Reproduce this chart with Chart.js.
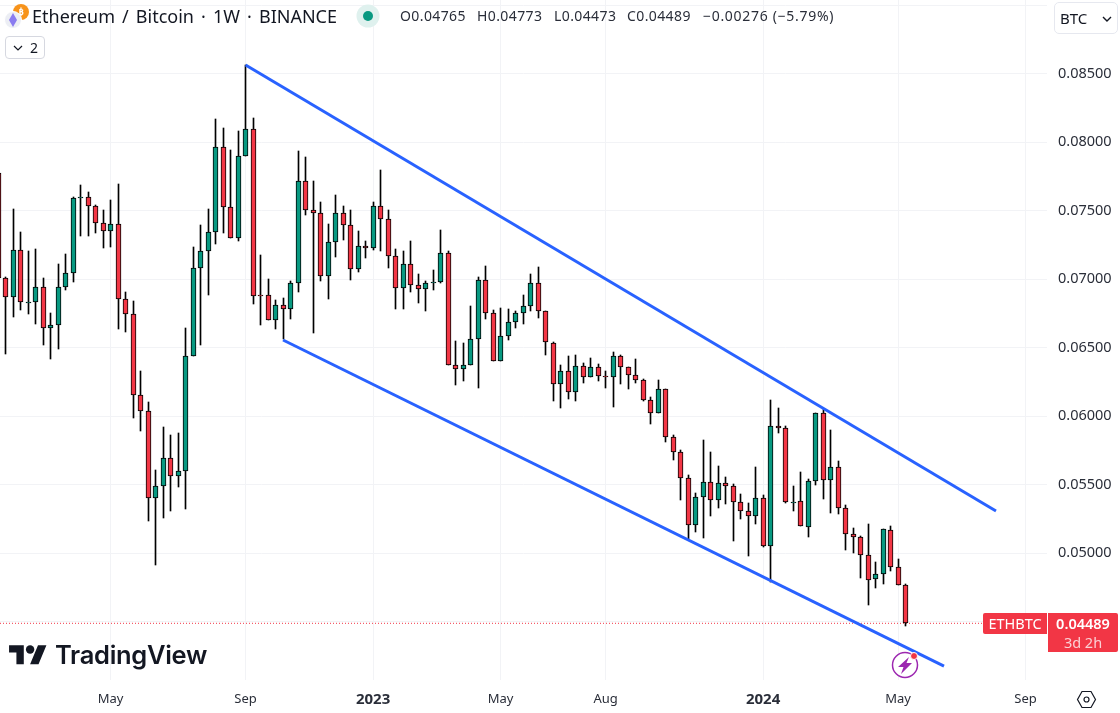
<!DOCTYPE html>
<html>
<head>
<meta charset="utf-8">
<title>ETHBTC</title>
<script src="https://cdn.jsdelivr.net/npm/chart.js@4"></script>
<style>
  html, body { margin: 0; padding: 0; background: #fff; }
  #wrap { position: relative; width: 1120px; height: 713px; overflow: hidden; font-family: "Noto Sans", sans-serif; color: #131722; }
  canvas { position: absolute; left: 0; top: 0; }
  .abs { position: absolute; white-space: nowrap; }
  #title { left: 32px; top: 4px; font-size: 18px; line-height: 24px; word-spacing: 2.4px; }
  #ohlc span { position: absolute; top: 5px; font-size: 14px; line-height: 22px; color: #2a2e39; letter-spacing: 0.4px; white-space: nowrap; }
  #ohlc span.change { letter-spacing: 0.7px; }
  #count { left: 5px; top: 36px; width: 38px; height: 21px; border: 1px solid #d6d8e0; border-radius: 4px; font-size: 14px; line-height: 21px; background: #fff; }
  #count span { position: absolute; left: 24px; top: 0; }
  #unit { left: 1054px; top: 2px; width: 62px; height: 30px; border: 1px solid #e6e8ef; border-radius: 5px; background: #fff; font-size: 15px; line-height: 30px; }
  #unit span { position: absolute; left: 5px; top: 0; }
  #symTag { left: 983px; top: 613px; width: 64px; height: 21px; background: #f23645; color: #fff; font-size: 14.5px; line-height: 21px; text-align: center; border-radius: 2px 0 0 2px; }
  #priceTag { left: 1048px; top: 613px; width: 70px; height: 39px; background: #f23645; color: #fff; border-radius: 0 2px 2px 0; text-align: center; font-size: 14.5px; line-height: 19px; }
  #priceTag b { font-weight: 600; display: block; margin-top: 1px; }
  #priceTag span { color: #fbd0d4; display: block; }
  #brand { left: 55px; top: 637px; font-family: Inter, sans-serif; font-weight: 600; font-size: 25.5px; line-height: 36px; color: #131722; letter-spacing: -0.3px; }
</style>
</head>
<body>
<div id="wrap">
  <canvas id="chart" width="1120" height="713" style="width:1120px;height:713px"></canvas>

  <svg class="abs" style="left:3px;top:3px" width="28" height="28" viewBox="0 0 28 28">
    <circle cx="18" cy="9" r="8" fill="#f7931a"/>
    <text x="18" y="12" font-size="9" font-weight="700" text-anchor="middle" fill="#fff" font-family="Noto Sans">₿</text>
    <circle cx="10" cy="17" r="8.5" fill="#eceef4" stroke="#fff"/>
    <path d="M10 10 L14 17 L10 24 L6 17 Z" fill="#8a7cf0"/>
  </svg>
  <div id="title" class="abs">Ethereum / Bitcoin · 1W · BINANCE</div>
  <svg class="abs" style="left:356px;top:4px" width="24" height="24" viewBox="0 0 24 24">
    <circle cx="12" cy="12" r="11.5" fill="#dff1ee"/>
    <circle cx="12" cy="12" r="5" fill="#089981"/>
  </svg>
  <div id="ohlc">
    <span style="left:400px">O0.04765</span>
    <span style="left:477px">H0.04773</span>
    <span style="left:554px">L0.04473</span>
    <span style="left:627px">C0.04489</span>
    <span class="change" style="left:703px">−0.00276 (−5.79%)</span>
  </div>

  <div id="count" class="abs">
    <svg style="position:absolute;left:7px;top:7px" width="10" height="8" viewBox="0 0 10 8"><path d="M1 2 L5 6 L9 2" fill="none" stroke="#131722" stroke-width="1.2"/></svg>
    <span>2</span>
  </div>
  <div id="unit" class="abs">
    <span>BTC</span>
    <svg style="position:absolute;left:47px;top:12px" width="10" height="8" viewBox="0 0 10 8"><path d="M1 2 L5 6 L9 2" fill="none" stroke="#131722" stroke-width="1.4"/></svg>
  </div>

  <div id="symTag" class="abs">ETHBTC</div>
  <div id="priceTag" class="abs"><b>0.04489</b><span>3d 2h</span></div>

  <svg class="abs" style="left:9px;top:641px" width="38" height="24" viewBox="0 0 36 22.8">
    <path d="M14 22H7V11H0V4h14v18zM28 22h-8l7.5-18h8L28 22z" fill="#131722"/>
    <circle cx="20" cy="8" r="4" fill="#131722"/>
  </svg>
  <div id="brand" class="abs">TradingView</div>

  <svg class="abs" style="left:889px;top:649px" width="32" height="32" viewBox="0 0 32 32">
    <circle cx="16" cy="16" r="12.5" fill="#fff" stroke="#9c27b0" stroke-width="1.5"/>
    <path d="M20 8 L9 18 L14.5 18 L12 25 L23 14 L17.5 14 Z" fill="#9c27b0"/>
    <circle cx="25" cy="7" r="3.5" fill="#f23645" stroke="#fff"/>
  </svg>

  <svg class="abs" style="left:1076px;top:689px" width="21" height="21" viewBox="0 0 21 21">
    <path d="M6 2.5 H15 L19.5 10.5 L15 18.5 H6 L1.5 10.5 Z" fill="none" stroke="#131722" stroke-width="1.2"/>
    <circle cx="10.5" cy="10.5" r="2.5" fill="none" stroke="#131722" stroke-width="1.2"/>
  </svg>
</div>

<script>
// weekly candles
const opens = [
  0.07778,0.07007,0.06868,0.07212,0.06832,0.06832,0.06941,0.06642,0.06664,0.06941,
  0.07044,0.07591,0.07598,0.07533,0.07409,0.07350,0.07401,0.06854,0.06744,0.06153,
  0.06036,0.05401,0.05489,0.05693,0.05562,0.05598,0.06438,0.07080,0.07204,0.07343,
  0.07963,0.07525,0.07299,0.07898,0.08095,0.06882,0.06883,0.06701,0.06810,0.06781,
  0.06971,0.07715,0.07503,0.07482,0.07022,0.07270,0.07482,0.07394,0.07073,0.07241,
  0.07226,0.07533,0.07438,0.07168,0.06934,0.07109,0.06956,0.06927,0.06971,0.06978,
  0.07190,0.06372,0.06343,0.06372,0.06562,0.06992,0.06752,0.06401,0.06584,0.06686,
  0.06752,0.06803,0.06971,0.06766,0.06533,0.06233,0.06328,0.06175,0.06365,0.06285,
  0.06358,0.06292,0.06285,0.06438,0.06358,0.06299,0.06263,0.06117,0.06022,0.06197,
  0.05847,0.05737,0.05547,0.05204,0.05409,0.05518,0.05387,0.05511,0.05489,0.05372,
  0.05306,0.05270,0.05401,0.05056,0.05927,0.05912,0.05372,0.05379,0.05190,0.05525,
  0.06022,0.05533,0.05628,0.05328,0.05138,0.05117,0.04985,0.04810,0.04847,0.05168,
  0.04898,0.04765
];
const highs = [
  0.07778,0.07014,0.07513,0.07345,0.07207,0.07221,0.07010,0.06754,0.07112,0.07185,
  0.07598,0.07688,0.07635,0.07540,0.07506,0.07579,0.07696,0.06907,0.06842,0.06331,
  0.06105,0.05608,0.05922,0.05864,0.05878,0.06645,0.07236,0.07396,0.07513,0.08170,
  0.08104,0.07944,0.08083,0.08564,0.08177,0.07177,0.07002,0.06849,0.06864,0.06985,
  0.07937,0.07893,0.07718,0.07564,0.07404,0.07615,0.07535,0.07506,0.07353,0.07280,
  0.07564,0.07798,0.07506,0.07221,0.07207,0.07280,0.07039,0.06985,0.07068,0.07360,
  0.07207,0.06550,0.06535,0.06805,0.07014,0.07097,0.06774,0.06788,0.06781,0.06766,
  0.06885,0.07039,0.07087,0.06766,0.06540,0.06372,0.06438,0.06445,0.06387,0.06426,
  0.06379,0.06328,0.06467,0.06445,0.06358,0.06416,0.06270,0.06139,0.06263,0.06197,
  0.05861,0.05752,0.05572,0.05438,0.05827,0.05739,0.05637,0.05557,0.05503,0.05430,
  0.05367,0.05630,0.05423,0.06119,0.06061,0.05930,0.05491,0.05594,0.05542,0.06022,
  0.06053,0.05900,0.05674,0.05350,0.05185,0.05124,0.05214,0.04937,0.05178,0.05199,
  0.04958,0.04773
];
const lows = [
  0.07007,0.06457,0.06727,0.06778,0.06749,0.06676,0.06523,0.06421,0.06494,0.06924,
  0.06983,0.07319,0.07319,0.07341,0.07231,0.07238,0.06640,0.06618,0.05990,0.05895,
  0.05238,0.04917,0.05260,0.05311,0.05487,0.05326,0.06438,0.06523,0.06888,0.07260,
  0.07341,0.07299,0.07282,0.07898,0.06822,0.06669,0.06701,0.06640,0.06562,0.06713,
  0.06910,0.07472,0.06611,0.06990,0.06859,0.07165,0.07289,0.06997,0.07056,0.07158,
  0.07216,0.07209,0.07085,0.06786,0.06786,0.06910,0.06830,0.06771,0.06924,0.06971,
  0.06372,0.06231,0.06260,0.06372,0.06209,0.06713,0.06401,0.06401,0.06559,0.06647,
  0.06676,0.06771,0.06720,0.06450,0.06114,0.06063,0.06129,0.06114,0.06246,0.06285,
  0.06260,0.06209,0.06070,0.06238,0.06202,0.06246,0.06109,0.05946,0.06022,0.05815,
  0.05684,0.05392,0.05105,0.05158,0.05114,0.05275,0.05333,0.05362,0.05092,0.05253,
  0.04983,0.05216,0.05048,0.04793,0.05881,0.05365,0.05311,0.05197,0.05122,0.05501,
  0.05399,0.05297,0.05289,0.05027,0.05005,0.04822,0.04625,0.04749,0.04774,0.04868,
  0.04766,0.04473
];
const closes = [
  0.07007,0.06868,0.07212,0.06832,0.06833,0.06941,0.06642,0.06664,0.06941,0.07044,
  0.07591,0.07598,0.07533,0.07409,0.07350,0.07401,0.06854,0.06744,0.06153,0.06036,
  0.05401,0.05489,0.05693,0.05562,0.05598,0.06438,0.07080,0.07204,0.07343,0.07963,
  0.07525,0.07299,0.07898,0.08095,0.06876,0.06877,0.06701,0.06810,0.06781,0.06971,
  0.07715,0.07503,0.07482,0.07022,0.07270,0.07482,0.07394,0.07073,0.07241,0.07226,
  0.07533,0.07438,0.07168,0.06934,0.07109,0.06956,0.06927,0.06971,0.06978,0.07190,
  0.06372,0.06343,0.06372,0.06562,0.06992,0.06752,0.06401,0.06584,0.06686,0.06752,
  0.06803,0.06971,0.06766,0.06540,0.06233,0.06328,0.06175,0.06365,0.06285,0.06358,
  0.06292,0.06288,0.06438,0.06358,0.06299,0.06263,0.06117,0.06022,0.06197,0.05847,
  0.05737,0.05547,0.05204,0.05409,0.05518,0.05387,0.05511,0.05489,0.05372,0.05306,
  0.05270,0.05401,0.05056,0.05927,0.05912,0.05372,0.05378,0.05197,0.05525,0.06022,
  0.05533,0.05628,0.05328,0.05138,0.05117,0.04985,0.04803,0.04847,0.05175,0.04898,
  0.04766,0.04489
];

// channel lines, x in weeks from the first candle
const upperChannelX = [33, 133.05];
const upperChannelY = [0.08564, 0.05309];
const lowerChannelX = [37.99, 126.12];
const lowerChannelY = [0.06557, 0.04177];

const lastPrice = 0.04489;

// axes
const monthWeeks = [15, 33, 50, 67, 81, 102, 120, 137];
const monthLabels = ["May", "Sep", "2023", "May", "Aug", "2024", "May", "Sep"];
const priceTicks = [0.045, 0.05, 0.055, 0.06, 0.065, 0.07, 0.075, 0.08, 0.085, 0.09];
const hiddenPriceTicks = [0.045, 0.09];

const UP = "#089981";
const DOWN = "#f23645";
const GRID = "#f2f3f6";
const X_MIN = 0.2533;
const X_MAX = 139.853;

const bodyColors = opens.map((o, i) => (closes[i] >= o ? UP : DOWN));

// snap candles to whole pixels so they stay crisp like the original
const snapCandles = {
  id: "snapCandles",
  beforeDatasetsDraw(chart) {
    chart.getSortedVisibleDatasetMetas().forEach(meta => {
      if (meta.type !== "bar") return;
      meta.data.forEach(bar => {
        bar.x = Math.floor(bar.x) + 0.5;
        bar.y = Math.round(bar.y);
        bar.base = Math.round(bar.base);
        if (bar.y === bar.base) bar.base = bar.y + 1;
      });
    });
  }
};

// labels must not push the plot area in from the canvas edge
function noAxisPadding(scale) {
  scale.paddingTop = 0;
  scale.paddingBottom = 0;
  scale.paddingLeft = 0;
  scale.paddingRight = 0;
}

function isYearTick(ctx) {
  return ctx.tick && /^\d+$/.test(ctx.tick.label);
}

new Chart(document.getElementById("chart"), {
  type: "bar",
  data: {
    datasets: [
      {
        type: "line",
        data: upperChannelX.map((x, i) => ({ x: x, y: upperChannelY[i] })),
        borderColor: "#2962ff",
        borderWidth: 3,
        pointRadius: 0,
        order: 1
      },
      {
        type: "line",
        data: lowerChannelX.map((x, i) => ({ x: x, y: lowerChannelY[i] })),
        borderColor: "#2962ff",
        borderWidth: 3,
        pointRadius: 0,
        order: 1
      },
      {
        data: opens.map((o, i) => ({ x: i, y: [o, closes[i]] })),
        backgroundColor: bodyColors,
        borderColor: "#000",
        borderWidth: 1,
        borderSkipped: false,
        barThickness: 5,
        grouped: false,
        order: 2
      },
      {
        data: lows.map((l, i) => ({ x: i, y: [l, highs[i]] })),
        backgroundColor: "#000",
        borderWidth: 0,
        barThickness: 1,
        grouped: false,
        order: 3
      },
      {
        type: "line",
        data: [{ x: X_MIN, y: lastPrice }, { x: X_MAX, y: lastPrice }],
        borderColor: DOWN,
        borderWidth: 1,
        borderDash: [1, 2],
        pointRadius: 0,
        order: 4
      }
    ]
  },
  options: {
    responsive: false,
    animation: false,
    layout: { padding: 0 },
    plugins: { legend: { display: false }, tooltip: { enabled: false } },
    scales: {
      x: {
        type: "linear",
        offset: false,
        min: X_MIN,
        max: X_MAX,
        afterBuildTicks(scale) {
          scale.ticks = monthWeeks.map(w => ({ value: w }));
        },
        afterFit(scale) {
          scale.height = 33;
          noAxisPadding(scale);
        },
        grid: { color: GRID, drawTicks: false, offset: false },
        border: { display: false },
        ticks: {
          autoSkip: false,
          maxRotation: 0,
          padding: 11,
          color: "#2a2e39",
          font: ctx => ({
            family: "'Noto Sans', sans-serif",
            size: isYearTick(ctx) ? 15 : 13,
            weight: isYearTick(ctx) ? "bold" : "normal"
          }),
          callback: (value, index) => monthLabels[index]
        }
      },
      y: {
        position: "right",
        min: 0.040752,
        max: 0.090387,
        afterBuildTicks(scale) {
          scale.ticks = priceTicks.map(v => ({ value: v }));
        },
        afterFit(scale) {
          scale.width = 73;
          noAxisPadding(scale);
        },
        grid: { color: GRID, drawTicks: false },
        border: { display: false },
        ticks: {
          autoSkip: false,
          padding: 11,
          color: "#2a2e39",
          font: { family: "'Noto Sans', sans-serif", size: 14.5 },
          callback: value => (hiddenPriceTicks.includes(value) ? "" : value.toFixed(5))
        }
      }
    }
  },
  plugins: [snapCandles]
});
</script>
</body>
</html>
